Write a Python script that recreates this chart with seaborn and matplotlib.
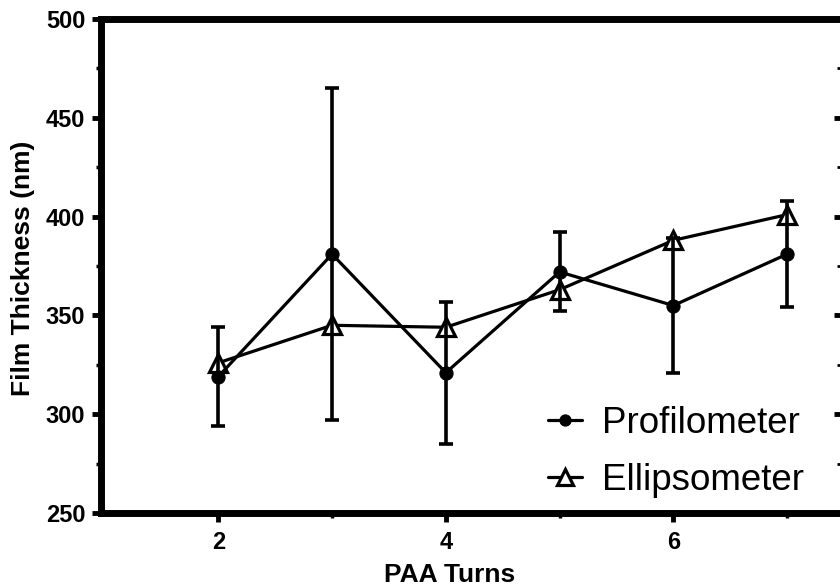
import numpy as np
import pandas as pd
import matplotlib
matplotlib.use("Agg")
import matplotlib.pyplot as plt
import seaborn as sns
from matplotlib.ticker import MultipleLocator, FixedLocator

# ---- data ----
turns = [2, 3, 4, 5, 6, 7]
profilometer = [319, 381, 321, 372, 355, 381]
profilometer_err = [25, 84, 36, 20, 34, 27]
ellipsometer = [326, 345, 344, 363, 388, 401]
series_names = ["Profilometer", "Ellipsometer"]
x_label = "PAA Turns"
y_label = "Film Thickness (nm)"
y_ticks = [250, 300, 350, 400, 450, 500]
x_ticks = [2, 4, 6]
x_minor_ticks = [3, 5, 7]

sns.set_style("ticks")
plt.rcParams["font.family"] = ["Liberation Sans", "DejaVu Sans"]
for k in ["text.color", "axes.labelcolor", "xtick.color", "ytick.color",
          "axes.edgecolor"]:
    plt.rcParams[k] = "black"

W, H = 840, 586
fig = plt.figure(figsize=(W / 100, H / 100), dpi=100)
left_px, right_px, top_px, bottom_px = 101.1, 844.0, 19.0, 513.0
ax = fig.add_axes([left_px / W, (H - bottom_px) / H,
                   (right_px - left_px) / W, (bottom_px - top_px) / H])

sns.lineplot(x=turns, y=ellipsometer, ax=ax, color="black", lw=2.3,
             marker="^", markersize=13, markerfacecolor="white",
             markeredgecolor="black", markeredgewidth=2.3,
             label=series_names[1], zorder=2)
sns.lineplot(x=turns, y=profilometer, ax=ax, color="black", lw=2.3,
             marker="o", markersize=9.5, markerfacecolor="black",
             markeredgecolor="black", label=series_names[0], zorder=3)
ax.errorbar(turns, profilometer, yerr=profilometer_err, fmt="none",
            ecolor="black", elinewidth=2.6, capsize=4.7, capthick=2.6,
            zorder=3)

ax.set_xlim(0.97, 7.5)
ax.set_ylim(250, 500)
ax.set_xticks(x_ticks)
ax.set_yticks(y_ticks)
ax.xaxis.set_minor_locator(FixedLocator(x_minor_ticks))
ax.yaxis.set_minor_locator(MultipleLocator(25))
ax.set_xlabel("")
ax.set_ylabel("")

for s in ["left", "bottom", "top"]:
    ax.spines[s].set_linewidth(5)
    ax.spines[s].set_color("black")
ax.spines["right"].set_visible(False)

ax.tick_params(axis="both", which="major", direction="out", length=6.5,
               width=3.5, color="black", labelsize=17, labelcolor="black")
ax.tick_params(axis="both", which="minor", direction="out", length=3.8,
               width=2.5, color="black")
ax.tick_params(axis="y", which="major", pad=5)
ax.tick_params(axis="x", which="major", pad=6.5)
for lab in ax.get_xticklabels() + ax.get_yticklabels():
    lab.set_fontweight("bold")

sec = ax.secondary_yaxis("right")
sec.spines["right"].set_linewidth(5)
sec.set_yticks(y_ticks)
sec.yaxis.set_minor_locator(MultipleLocator(25))
sec.tick_params(axis="y", which="major", direction="in", length=7,
                width=3.5, labelright=False, color="black")
sec.tick_params(axis="y", which="minor", direction="in", length=5,
                width=2, labelright=False, color="black")

fig.text(23 / W, (H - 268) / H, y_label, rotation=90, ha="center",
         va="center", fontsize=19, fontweight="bold", color="black")
fig.text(450 / W, (H - 575) / H, x_label, ha="center", va="center",
         fontsize=19, fontweight="bold", color="black")

handles, labels = ax.get_legend_handles_labels()
order = [labels.index(n) for n in series_names]
leg = ax.legend([handles[i] for i in order], [labels[i] for i in order],
                loc="center left", bbox_to_anchor=(548 / W, (H - 452) / H),
                bbox_transform=fig.transFigure, frameon=False,
                fontsize=26.5, handlelength=0.93, handletextpad=0.55,
                labelspacing=0.58, borderpad=0, borderaxespad=0,
                markerscale=0.85)
for t in leg.get_texts():
    t.set_color("black")

fig.savefig("out.png", dpi=100)
